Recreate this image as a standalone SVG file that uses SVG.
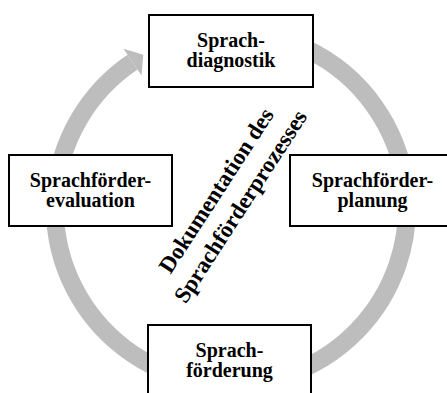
<svg xmlns="http://www.w3.org/2000/svg" width="447" height="393" viewBox="0 0 447 393">
<style>
.box{fill:#fff;stroke:#000;stroke-width:2}
.t{font-family:"Liberation Serif","Times New Roman",serif;font-weight:bold;font-size:20px;text-anchor:middle;fill:#000}
.d{font-family:"Liberation Serif","Times New Roman",serif;font-weight:bold;font-size:23px;text-anchor:middle;fill:#000}
.ring{fill:none;stroke:#bdbdbd;stroke-width:18}
</style>
<rect width="447" height="393" fill="#fff"/>
<g id="connectors">
<path class="ring" d="M 231 32 A 176 176 0 1 1 132.5 62.1"/>
<polygon points="123.5,48.8 143.3,54.8 141.5,75.4" fill="#bdbdbd"/>
</g>
<g id="diagnostik">
<rect class="box" x="149" y="15" width="164" height="72"/>
<text class="t" x="231" y="47">Sprach-</text>
<text class="t" x="231" y="67">diagnostik</text>
</g>
<g id="evaluation">
<rect class="box" x="9" y="155" width="163" height="71"/>
<text class="t" x="90.5" y="187">Sprachförder-</text>
<text class="t" x="90.5" y="207">evaluation</text>
</g>
<g id="planung">
<rect class="box" x="290" y="155" width="165" height="71"/>
<text class="t" x="372.5" y="187">Sprachförder-</text>
<text class="t" x="372.5" y="207">planung</text>
</g>
<g id="foerderung">
<rect class="box" x="148" y="325" width="163" height="72"/>
<text class="t" x="229.5" y="357">Sprach-</text>
<text class="t" x="229.5" y="377">förderung</text>
</g>
<g id="dokumentation" transform="translate(222.5,194.7) rotate(-57)">
<text class="d" x="0" y="0">Dokumentation des</text>
<text class="d" x="0" y="29">Sprachförderprozesses</text>
</g>
</svg>
